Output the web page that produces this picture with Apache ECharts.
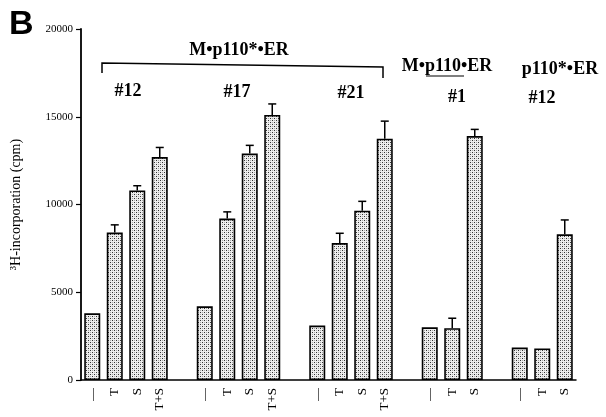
<!DOCTYPE html>
<html>
<head>
<meta charset="utf-8">
<script src="https://cdn.jsdelivr.net/npm/echarts@6/dist/echarts.min.js"></script>
<style>
html,body{margin:0;padding:0;background:#fff;}
#chart{width:606px;height:417px;}
</style>
</head>
<body>
<div id="chart"></div>
<script>
var categories = ['—','T','S','T+S','', '—','T','S','T+S','', '—','T','S','T+S','', '—','T','S','', '—','T','S'];
var values = [3800, 8400, 10800, 12700, null, 4200, 9200, 12900, 15100, null, 3100, 7800, 9650, 13750, null, 3000, 2950, 13900, null, 1850, 1800, 8300];
var errors = [null, 440, 270, 550, null, null, 380, 470, 630, null, null, 560, 530, 1000, null, null, 570, 380, null, null, null, 820];
var yTicks = [0, 5000, 10000, 15000, 20000];

// stipple pattern
var pc = document.createElement('canvas');
pc.width = 4; pc.height = 4;
var pctx = pc.getContext('2d');
pctx.fillStyle = '#eeeeee'; pctx.fillRect(0,0,4,4);
pctx.fillStyle = '#333';
pctx.fillRect(0,0,1,1); pctx.fillRect(2,2,1,1);
pctx.fillStyle = '#aaa';
pctx.fillRect(2,0,1,1); pctx.fillRect(0,2,1,1);

var errData = [];
for (var i = 0; i < values.length; i++) {
  if (values[i] != null && errors[i] != null) errData.push([i, values[i], errors[i]]);
}

var serif = '"Liberation Serif", "Times New Roman", serif';
var chart = echarts.init(document.getElementById('chart'), null, {renderer: 'canvas'});
chart.setOption({
  animation: false,
  grid: {left: 81, right: 30, top: 29, bottom: 37, containLabel: false},
  xAxis: {
    type: 'category',
    data: categories,
    boundaryGap: true,
    axisLine: {lineStyle: {color: '#000', width: 1.5}},
    axisTick: {alignWithLabel: true, interval: 0, length: 4, lineStyle: {color: '#000', width: 1.5}},
    axisLabel: {interval: 0, rotate: 90, color: '#000', fontFamily: serif, fontSize: 13, margin: 8}
  },
  yAxis: {
    type: 'value',
    min: yTicks[0], max: yTicks[yTicks.length-1], interval: 5000,
    name: '³H-incorporation (cpm)',
    nameLocation: 'middle',
    nameGap: 58,
    nameRotate: 90,
    nameTextStyle: {color: '#000', fontFamily: serif, fontSize: 14},
    axisLine: {show: true, lineStyle: {color: '#000', width: 1.8}},
    axisTick: {show: true, length: 5, lineStyle: {color: '#000', width: 1.2}},
    axisLabel: {color: '#000', fontFamily: serif, fontSize: 11, margin: 8, formatter: function (v) { return String(v); }},
    splitLine: {show: false}
  },
  series: [
    {
      type: 'bar',
      data: values,
      barWidth: 16,
      itemStyle: {color: {image: pc, repeat: 'repeat'}, borderColor: '#000', borderWidth: 1.6}
    },
    {
      type: 'custom',
      data: errData,
      z: 5,
      renderItem: function (params, api) {
        var idx = api.value(0), v = api.value(1), e = api.value(2);
        var p0 = api.coord([idx, v]);
        var p1 = api.coord([idx, v + e]);
        var st = {stroke: '#000', lineWidth: 1.5};
        return {type: 'group', children: [
          {type: 'line', shape: {x1: p0[0], y1: p0[1], x2: p1[0], y2: p1[1]}, style: st},
          {type: 'line', shape: {x1: p1[0]-4, y1: p1[1], x2: p1[0]+4, y2: p1[1]}, style: st}
        ]};
      }
    }
  ],
  graphic: [
    {type: 'text', left: 9, top: 8, style: {text: 'B', font: 'bold 34px "Liberation Sans", Arial, sans-serif', fill: '#000'}},
    {type: 'text', x: 239, y: 50, style: {text: 'M•p110*•ER', font: 'bold 18px ' + serif, fill: '#000', textAlign: 'center', textVerticalAlign: 'middle'}},
    {type: 'polyline', shape: {points: [[102,73],[102,63],[383,67],[383,78]]}, style: {stroke: '#000', lineWidth: 1.5, fill: null}},
    {type: 'text', x: 128, y: 91, style: {text: '#12', font: 'bold 18px ' + serif, fill: '#000', textAlign: 'center', textVerticalAlign: 'middle'}},
    {type: 'text', x: 237, y: 92, style: {text: '#17', font: 'bold 18px ' + serif, fill: '#000', textAlign: 'center', textVerticalAlign: 'middle'}},
    {type: 'text', x: 351, y: 93, style: {text: '#21', font: 'bold 18px ' + serif, fill: '#000', textAlign: 'center', textVerticalAlign: 'middle'}},
    {type: 'text', x: 447, y: 66, style: {text: 'M•p110•ER', font: 'bold 18px ' + serif, fill: '#000', textAlign: 'center', textVerticalAlign: 'middle'}},
    {type: 'line', shape: {x1: 426, y1: 76, x2: 464, y2: 76}, style: {stroke: '#000', lineWidth: 1.2}},
    {type: 'text', x: 457, y: 97, style: {text: '#1', font: 'bold 18px ' + serif, fill: '#000', textAlign: 'center', textVerticalAlign: 'middle'}},
    {type: 'text', x: 560, y: 69, style: {text: 'p110*•ER', font: 'bold 18px ' + serif, fill: '#000', textAlign: 'center', textVerticalAlign: 'middle'}},
    {type: 'text', x: 542, y: 98, style: {text: '#12', font: 'bold 18px ' + serif, fill: '#000', textAlign: 'center', textVerticalAlign: 'middle'}}
  ]
});
</script>
</body>
</html>
